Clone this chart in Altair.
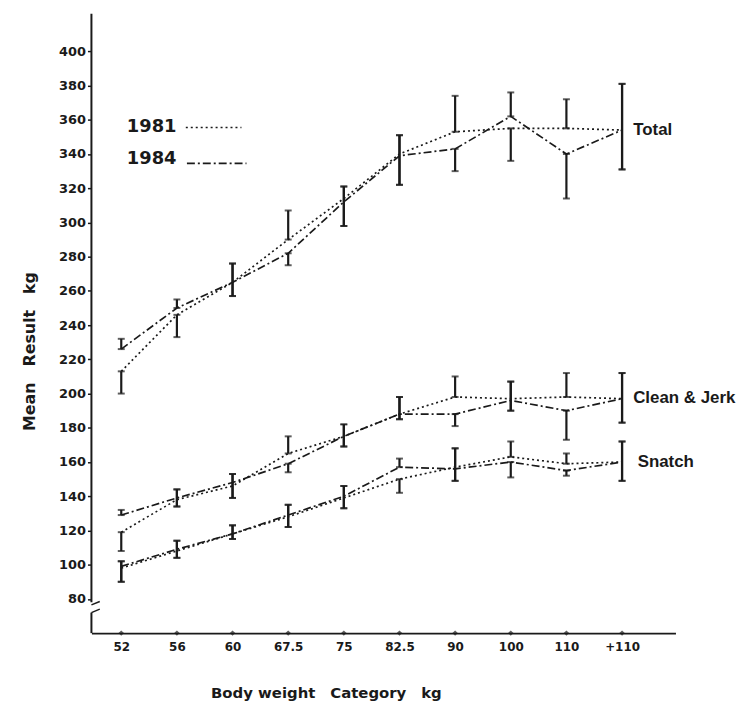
import altair as alt
import pandas as pd

categories = ["52", "56", "60", "67.5", "75", "82.5", "90", "100", "110", "+110"]
years = ["1981", "1984"]
lifts = ["Total", "Clean & Jerk", "Snatch"]

# means
total_1981 = [213, 246, 265, 290, 314, 340, 353, 355, 355, 354]
total_1984 = [226, 250, 265, 282, 312, 339, 343, 362, 340, 354]
cj_1981 = [119, 138, 146, 165, 175, 188, 198, 197, 198, 197]
cj_1984 = [129, 139, 148, 159, 175, 188, 188, 196, 190, 197]
sn_1981 = [98, 108, 118, 128, 139, 150, 157, 163, 159, 160]
sn_1984 = [99, 109, 118, 129, 140, 157, 156, 160, 155, 160]

# error bar ends (low, high)
total_1981_lo = [200, 233, 257, 290, 298, 322, 353, 336, 355, 331]
total_1981_hi = [213, 246, 276, 307, 321, 351, 374, 355, 372, 381]
total_1984_lo = [226, 250, 257, 275, 298, 322, 330, 362, 314, 331]
total_1984_hi = [232, 255, 276, 282, 321, 351, 343, 376, 340, 381]
cj_1981_lo = [108, 134, 139, 165, 169, 185, 198, 190, 198, 183]
cj_1981_hi = [119, 144, 153, 175, 182, 198, 210, 207, 212, 212]
cj_1984_lo = [129, 134, 139, 154, 169, 185, 181, 190, 173, 183]
cj_1984_hi = [132, 144, 153, 159, 182, 198, 188, 207, 190, 212]
sn_1981_lo = [90, 104, 115, 122, 133, 142, 149, 163, 159, 149]
sn_1981_hi = [102, 114, 123, 135, 146, 150, 168, 172, 165, 172]
sn_1984_lo = [90, 104, 115, 122, 133, 157, 149, 151, 152, 149]
sn_1984_hi = [102, 114, 123, 135, 146, 162, 168, 160, 155, 172]

y_ticks = list(range(80, 401, 20))

series = [
    ("Total", "1981", total_1981, total_1981_lo, total_1981_hi),
    ("Total", "1984", total_1984, total_1984_lo, total_1984_hi),
    ("Clean & Jerk", "1981", cj_1981, cj_1981_lo, cj_1981_hi),
    ("Clean & Jerk", "1984", cj_1984, cj_1984_lo, cj_1984_hi),
    ("Snatch", "1981", sn_1981, sn_1981_lo, sn_1981_hi),
    ("Snatch", "1984", sn_1984, sn_1984_lo, sn_1984_hi),
]
rows = []
for lift, yr, m, lo, hi in series:
    for i in range(len(categories)):
        rows.append({"idx": i, "lift": lift, "year": yr, "key": lift + yr,
                     "mean": m[i], "lo": lo[i], "hi": hi[i]})
df = pd.DataFrame(rows)

XMIN, XMAX = -0.536, 9.96
YMIN, YMAX = 60, 417
FONT = "DejaVu Sans"
INK = "#1a1a1a"

xscale = alt.Scale(domain=[XMIN, XMAX], nice=False, zero=False)
yscale = alt.Scale(domain=[YMIN, YMAX], nice=False, zero=False)
label_expr = "[" + ",".join("'" + c + "'" for c in categories) + "][datum.value]"

xax = alt.Axis(values=list(range(len(categories))), labelExpr=label_expr,
               title="Body weight\u2003Category\u2003kg", titleFont=FONT, titleFontSize=15,
               titleFontWeight="bold", titleX=236, titleY=60, titleBaseline="middle",
               titleAlign="center", titleColor=INK,
               labelFont=FONT, labelFontSize=12, labelFontWeight="bold", labelColor=INK,
               labelPadding=9, tickSize=0, domainColor=INK, domainWidth=2, grid=False,
               labelOverlap=False)
yax = alt.Axis(values=y_ticks, title="Mean\u2003Result\u2003kg", titleFont=FONT,
               titleFontSize=16, titleFontWeight="bold", titleX=-62, titleY=331,
               titleAngle=-90, titleBaseline="middle", titleAlign="center", titleColor=INK,
               labelFont=FONT, labelFontSize=13, labelFontWeight="bold", labelColor=INK,
               labelPadding=2, tickSize=4, tickColor=INK, tickWidth=1.5, domain=False, grid=False,
               labelOverlap=False)


def X(field):
    return alt.X(field, scale=xscale, axis=xax)


def Y(field):
    return alt.Y(field, scale=yscale, axis=yax)


base = alt.Chart(df)
dash_scale = alt.Scale(domain=years, range=[[2, 3], [8, 3, 2, 3]])

lines = base.mark_line(strokeWidth=1.7, color=INK).encode(
    x=X("idx:Q"), y=Y("mean:Q"), detail="key:N",
    strokeDash=alt.StrokeDash("year:N", scale=dash_scale, legend=None),
)

bars = base.mark_rule(strokeWidth=2.2, color=INK).encode(
    x=X("idx:Q"), y=Y("lo:Q"), y2="hi:Q")
caps_lo = base.mark_tick(orient="horizontal", size=7, thickness=2, color=INK).encode(
    x=X("idx:Q"), y=Y("lo:Q"))
caps_hi = base.mark_tick(orient="horizontal", size=7, thickness=2, color=INK).encode(
    x=X("idx:Q"), y=Y("hi:Q"))

# x-axis diamonds
xt = pd.DataFrame({"idx": list(range(len(categories))), "v": [YMIN] * len(categories)})
diam = alt.Chart(xt).mark_point(shape="diamond", size=30, filled=True, color=INK).encode(
    x=X("idx:Q"), y=Y("v:Q"))

# y axis with break
ax_df = pd.DataFrame({"x": [XMIN, XMIN], "y1": [422, 60], "y2": [78, 72]})
yaxis_line = alt.Chart(ax_df).mark_rule(strokeWidth=2, color=INK).encode(
    x=X("x:Q"), y=Y("y1:Q"), y2="y2:Q")
brk_df = pd.DataFrame({"x1": [XMIN, XMIN], "x2": [XMIN + 0.15, XMIN + 0.15],
                       "y1": [76.5, 72], "y2": [78.5, 74]})
brk = alt.Chart(brk_df).mark_rule(strokeWidth=1.5, color=INK).encode(
    x=X("x1:Q"), x2="x2:Q", y=Y("y1:Q"), y2="y2:Q")

# right labels
lab_df = pd.DataFrame({"lift": lifts, "x": [9.2, 9.2, 9.28], "y": [354, 197.5, 160]})
labels = alt.Chart(lab_df).mark_text(align="left", baseline="middle", font="Liberation Sans",
                                     fontWeight="bold", fontSize=17, color=INK).encode(
    x=X("x:Q"), y=Y("y:Q"), text="lift:N")

# legend
leg_txt = pd.DataFrame({"t": years, "x": [0.1, 0.1], "y": [356, 337]})
leg_text = alt.Chart(leg_txt).mark_text(align="left", baseline="middle", font=FONT,
                                        fontWeight="bold", fontSize=18, color=INK).encode(
    x=X("x:Q"), y=Y("y:Q"), text="t:N")
leg_ln = pd.DataFrame({"year": years, "x1": [1.16, 1.18], "x2": [2.16, 2.25], "y": [355.5, 334.5]})
leg_lines = alt.Chart(leg_ln).mark_rule(strokeWidth=1.7, color=INK).encode(
    x=X("x1:Q"), x2="x2:Q", y=Y("y:Q"),
    strokeDash=alt.StrokeDash("year:N", scale=dash_scale, legend=None))

chart = alt.layer(lines, bars, caps_lo, caps_hi, diam, yaxis_line, brk, labels, leg_text, leg_lines).properties(
    width=588, height=615,
    autosize=alt.AutoSizeParams(type="none"),
    padding={"left": 84, "top": 12, "right": 70, "bottom": 70},
).configure(background="white").configure_view(stroke=None).configure_axis(labelOverlap=False)

chart.save("out.html", embed_options={"renderer": "svg", "actions": False})
